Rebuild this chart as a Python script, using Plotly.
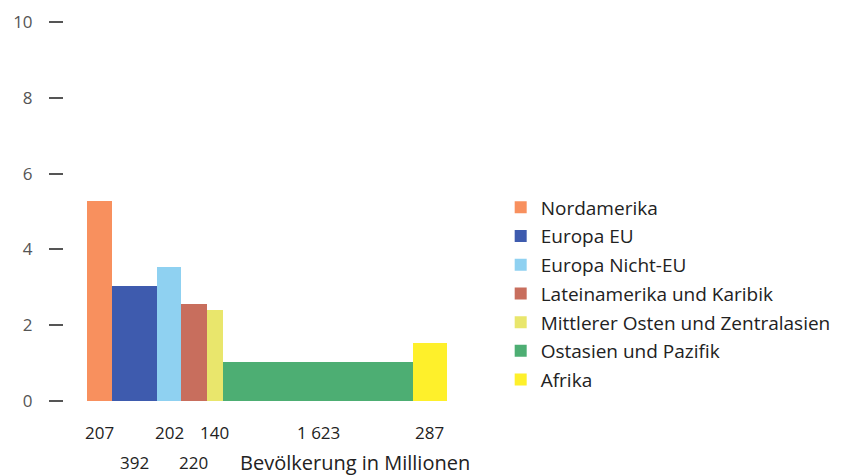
import numpy as np
import plotly.graph_objects as go

regions = ['Nordamerika', 'Europa EU', 'Europa Nicht-EU', 'Lateinamerika und Karibik',
           'Mittlerer Osten und Zentralasien', 'Ostasien und Pazifik', 'Afrika']
population = [207, 392, 202, 220, 140, 1623, 287]   # Mio., bar widths
values = [5.28, 3.03, 3.54, 2.56, 2.40, 1.03, 1.54]  # bar heights
pop_labels = ['207', '392', '202', '220', '140', '1 623', '287']
colors = ['#F8905E', '#3E5BAE', '#8FD1F1', '#C86E5D', '#E9E66C', '#4DAE73', '#FEF02B']

widths = np.array(population, dtype=float)
right = np.cumsum(widths)
centers = right - widths / 2

fig = go.Figure()
for i, name in enumerate(regions):
    fig.add_trace(go.Bar(
        x=[centers[i]], y=[values[i]], width=[widths[i]],
        name=name, legendgroup=name,
        marker=dict(color=colors[i], line=dict(width=0)),
    ))

# population labels under the bars, on two alternating rows
annotations = []
for i, lab in enumerate(pop_labels):
    row = 1 if i in (1, 3) else 0
    annotations.append(dict(
        x=centers[i], xref='x', y=-0.084 - row * 0.077, yref='paper',
        text=lab, showarrow=False, xanchor='center', yanchor='middle',
        font=dict(size=17, color='#222222'),
    ))
annotations.append(dict(
    x=0.451, xref='paper', y=-0.161, yref='paper',
    text='Bevölkerung in Millionen', showarrow=False,
    xanchor='left', yanchor='middle', font=dict(size=20, color='#222222'),
))

fig.update_layout(
    width=848, height=475,
    margin=dict(l=56, r=406, t=14, b=82),
    paper_bgcolor='white', plot_bgcolor='white',
    font=dict(family='Open Sans, sans-serif', size=17, color='#222222'),
    barmode='overlay', bargap=0,
    showlegend=True,
    legend=dict(
        xref='container', yref='container', x=0.581, y=0.620,
        xanchor='left', yanchor='top',
        font=dict(size=19, color='#222222'),
        tracegroupgap=1, itemsizing='constant',
        bgcolor='rgba(0,0,0,0)',
    ),
    annotations=annotations,
)
fig.update_xaxes(range=[-199, 3099], showticklabels=False, showgrid=False,
                 zeroline=False, showline=False, ticks='', automargin=False)
fig.update_yaxes(range=[0, 10], tickvals=[0, 2, 4, 6, 8, 10], ticks='outside',
                 ticklen=14, tickwidth=1.5, tickcolor='#555555',
                 ticklabelstandoff=13, showgrid=False, zeroline=False,
                 showline=False, tickfont=dict(size=17, color='#555555'),
                 automargin=False)

fig.write_html('out.html')
